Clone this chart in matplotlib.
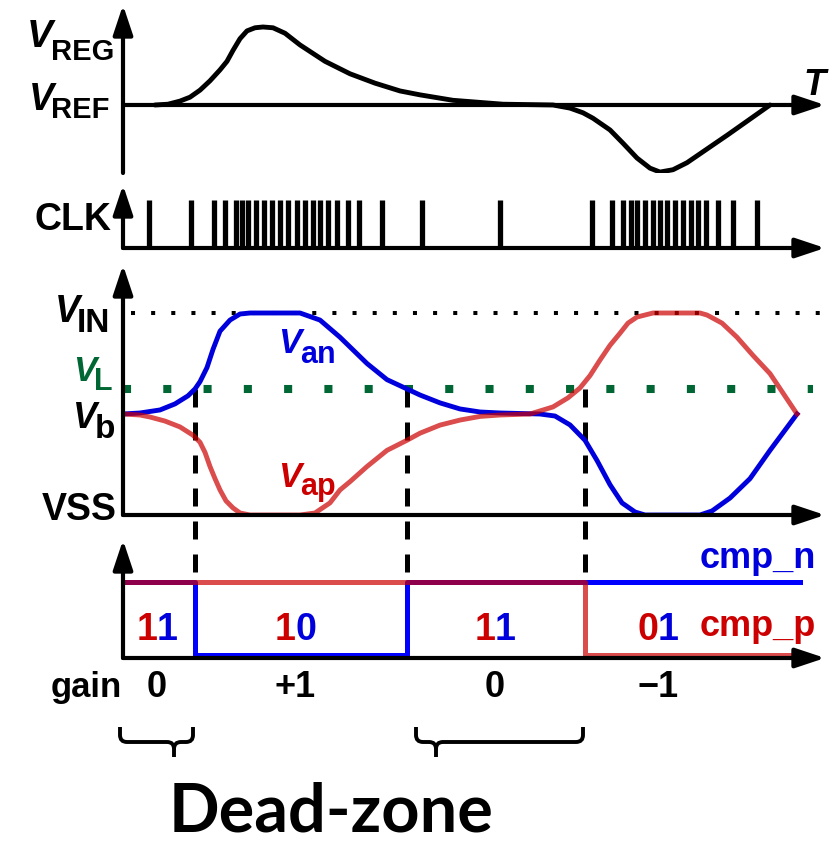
import matplotlib.pyplot as plt
from matplotlib.path import Path
from matplotlib.patches import PathPatch

plt.rcParams['font.family'] = ['Liberation Sans', 'DejaVu Sans']
plt.rcParams['font.weight'] = 'bold'

# ---- data (time in arbitrary units along the T axis) ----
# V_REG, normalised so that V_REF = 0
vreg_t = [32, 45, 57, 67, 77, 87, 97, 104, 110, 117, 124, 132, 140, 150, 162, 177, 202,
          227, 252, 277, 297, 330, 380, 430, 447, 460, 470, 487, 500, 514, 527, 537,
          550, 564, 605, 647]
vreg_v = [0, 0.01, 0.05, 0.1, 0.19, 0.31, 0.45, 0.56, 0.7, 0.85, 0.95, 0.99, 1.0, 0.99,
          0.92, 0.77, 0.56, 0.4, 0.28, 0.18, 0.13, 0.06, 0.01, 0, -0.04, -0.1, -0.17,
          -0.32, -0.49, -0.68, -0.81, -0.86, -0.83, -0.74, -0.38, 0]

# clock edges
clk_t = [26, 68, 91, 102, 113, 119, 125, 133, 141, 149, 157, 165, 174, 182, 190, 197,
         205, 214, 225, 236, 259, 299, 377, 469, 489, 500, 508, 514, 522, 530, 537, 544,
         552, 560, 568, 575, 583, 595, 610, 634]

# comparator input voltages, normalised: VSS = 0, V_IN = 1
v_b, v_L = 0.5, 0.624
van_t = [0, 17, 37, 52, 65, 72, 77, 84, 90, 97, 107, 117, 127, 177, 197, 217, 244, 264,
         284, 297, 317, 337, 357, 377, 417, 432, 447, 462, 474, 487, 499, 512, 522, 577,
         589, 607, 627, 647, 674]
van_v = [0.5, 0.505, 0.52, 0.55, 0.59, 0.624, 0.66, 0.73, 0.82, 0.91, 0.965, 0.995, 1.0,
         1.0, 0.965, 0.88, 0.75, 0.67, 0.624, 0.594, 0.555, 0.525, 0.51, 0.505, 0.5,
         0.49, 0.446, 0.37, 0.27, 0.15, 0.06, 0.015, 0, 0, 0.02, 0.084, 0.18, 0.32, 0.5]
vap_t = [0, 17, 27, 42, 57, 70, 77, 82, 87, 92, 97, 103, 110, 117, 127, 177, 192, 207,
         217, 227, 244, 264, 284, 297, 317, 337, 357, 377, 407, 430, 445, 457, 467, 477,
         487, 497, 505, 514, 530, 577, 584, 599, 614, 630, 647, 674]
vap_v = [0.5, 0.495, 0.485, 0.465, 0.436, 0.395, 0.36, 0.31, 0.24, 0.18, 0.124, 0.07,
         0.035, 0.01, 0, 0, 0.01, 0.06, 0.124, 0.165, 0.24, 0.32, 0.37, 0.405, 0.445,
         0.47, 0.488, 0.495, 0.5, 0.535, 0.58, 0.629, 0.69, 0.767, 0.84, 0.9, 0.95, 0.98,
         1.0, 1.0, 0.99, 0.95, 0.88, 0.79, 0.7, 0.5]

# comparator outputs
cmp_t = [0, 72, 284, 462, 677]
cmp_n = [1, 0, 1, 1, 1]
cmp_p = [1, 1, 1, 0, 0]
cross_t = [72, 284, 462]

codes = ['11', '10', '11', '01']
gains = ['0', '+1', '0', '\u22121']
region_c = [34, 172, 372, 535]
dead_zones = [(0, 72), (284, 462)]

BLUE = '#0000dd'
RED = '#cc0000'
GREEN = '#006633'

W, H = 838, 843
T_END = 702
fig = plt.figure(figsize=(W / 100, H / 100), dpi=100)


def panel(top, bottom, ylim):
    ax = fig.add_axes([123 / W, 1 - bottom / H, T_END / W, (bottom - top) / H])
    ax.set_xlim(0, T_END)
    ax.set_ylim(*ylim)
    ax.set_axis_off()
    return ax


def arrow(ax, p0, p1):
    ax.annotate('', xy=p1, xytext=p0,
                arrowprops=dict(arrowstyle='-|>,head_length=0.9,head_width=0.3',
                                mutation_scale=20, lw=3, color='k',
                                shrinkA=0, shrinkB=0, joinstyle='round'),
                annotation_clip=False)


def label(ax, t, v, main, sub, dt, dv, s1, s2, color='k', italic=True):
    ax.text(t, v, main, fontsize=s1, color=color, style='italic' if italic else 'normal',
            ha='left', va='baseline', clip_on=False)
    if sub:
        ax.text(t + dt, v + dv, sub, fontsize=s2, color=color, ha='left', va='baseline',
                clip_on=False)


# ---- V_REG ----
ax1 = panel(5, 173, (-0.872, 1.282))
arrow(ax1, (0, -0.872), (0, 1.282))
arrow(ax1, (0, 0), (T_END, 0))
ax1.plot(vreg_t, vreg_v, color='k', lw=3.5, solid_joinstyle='round', solid_capstyle='round')
label(ax1, -96, 0.744, 'V', 'REG', 24, -0.167, 28, 21)
label(ax1, -94, -0.064, 'V', 'REF', 22, -0.103, 27, 21)
label(ax1, 680, 0.13, 'T', None, 0, 0, 26, 0)

# ---- CLK ----
ax2 = panel(185, 248, (0, 1.3125))
arrow(ax2, (0, 0), (0, 1.3125))
arrow(ax2, (0, 0), (T_END, 0))
ax2.vlines(clk_t, 0, 1, color='k', lw=3.8)
ax2.text(-89, 0.375, 'CLK', fontsize=27, ha='left', va='baseline', clip_on=False)

# ---- comparator inputs ----
ax3 = panel(265, 515, (0, 1.2376))
arrow(ax3, (0, 0), (0, 1.2376))
arrow(ax3, (0, 0), (T_END, 0))
ax3.plot([8, 697], [1, 1], color='k', lw=2.9, dashes=(1, 4), solid_capstyle='butt',
         dash_capstyle='butt')
ax3.plot([0, 690], [v_L, v_L], color=GREEN, lw=5.8, dashes=(1, 4), dash_capstyle='butt')
for t in cross_t:
    ax3.plot([t, t], [v_L, -0.332], color='k', lw=3.6, dashes=(3.6, 3),
             dash_capstyle='butt', clip_on=False)
ax3.plot(van_t, van_v, color=BLUE, lw=3.5, solid_joinstyle='round')
ax3.plot(vap_t, vap_v, color=RED, lw=3.5, alpha=0.7, solid_joinstyle='round')
label(ax3, -68, 0.955, 'V', 'IN', 22, -0.05, 27, 24)
label(ax3, -50, 0.665, 'V', 'L', 21, -0.045, 25, 22, color=GREEN)
label(ax3, -50, 0.43, 'V', 'b', 22, -0.05, 26, 24)
ax3.text(-81, -0.025, 'VSS', fontsize=27, ha='left', va='baseline', clip_on=False)
label(ax3, 155, 0.80, 'V', 'an', 22, -0.05, 25, 22, color=BLUE)
label(ax3, 155, 0.139, 'V', 'ap', 22, -0.04, 25, 22, color=RED)

# ---- comparator outputs ----
ax4 = panel(540, 658, (-0.041, 1.575))
arrow(ax4, (0, -0.041), (0, 1.575))
arrow(ax4, (0, -0.041), (T_END, -0.041))
ax4.step(cmp_t, cmp_n, where='post', color='#0000ff', lw=3.6)
ax4.step(cmp_t, cmp_p, where='post', color=RED, lw=3.6, alpha=0.7)
for c, code in zip(region_c, codes):
    ax4.text(c, 0.205, code[0], fontsize=27, color=RED, ha='right', va='baseline')
    ax4.text(c, 0.205, code[1], fontsize=27, color=BLUE, ha='left', va='baseline')
ax4.text(577, 1.19, 'cmp_n', fontsize=26, color=BLUE, ha='left', va='baseline',
         clip_on=False)
ax4.text(577, 0.26, 'cmp_p', fontsize=26, color=RED, ha='left', va='baseline',
         clip_on=False)

# ---- gain row, dead-zone braces ----
ax5 = panel(660, 843, (183, 0))
ax5.text(-72, 37, 'gain', fontsize=25, ha='left', va='baseline', clip_on=False)
for c, g in zip(region_c, gains):
    ax5.text(c, 37, g, fontsize=26, ha='center', va='baseline')


def brace(ax, a, b, tip, y0=67, y1=82, y2=97, r=7):
    M, L, C = Path.MOVETO, Path.LINETO, Path.CURVE3
    verts = [(a, y0), (a, y1 - r), (a, y1), (a + r, y1), (tip - r, y1), (tip, y1),
             (tip, y1 + r), (tip, y2),
             (b, y0), (b, y1 - r), (b, y1), (b - r, y1), (tip + r, y1), (tip, y1),
             (tip, y1 + r)]
    cds = [M, L, C, C, L, C, C, L, M, L, C, C, L, C, C]
    ax.add_patch(PathPatch(Path(verts, cds), fill=False, lw=2.8, color='k',
                           capstyle='butt', clip_on=False))


brace(ax5, dead_zones[0][0] - 3, dead_zones[0][1] - 2, 51)
brace(ax5, dead_zones[1][0] + 9, dead_zones[1][1] - 2, 313)
ax5.text(208, 171, 'Dead-zone', fontsize=48, family=['Lato', 'DejaVu Sans'],
         weight='bold', ha='center', va='baseline', clip_on=False)

fig.savefig('out.png', dpi=100)
